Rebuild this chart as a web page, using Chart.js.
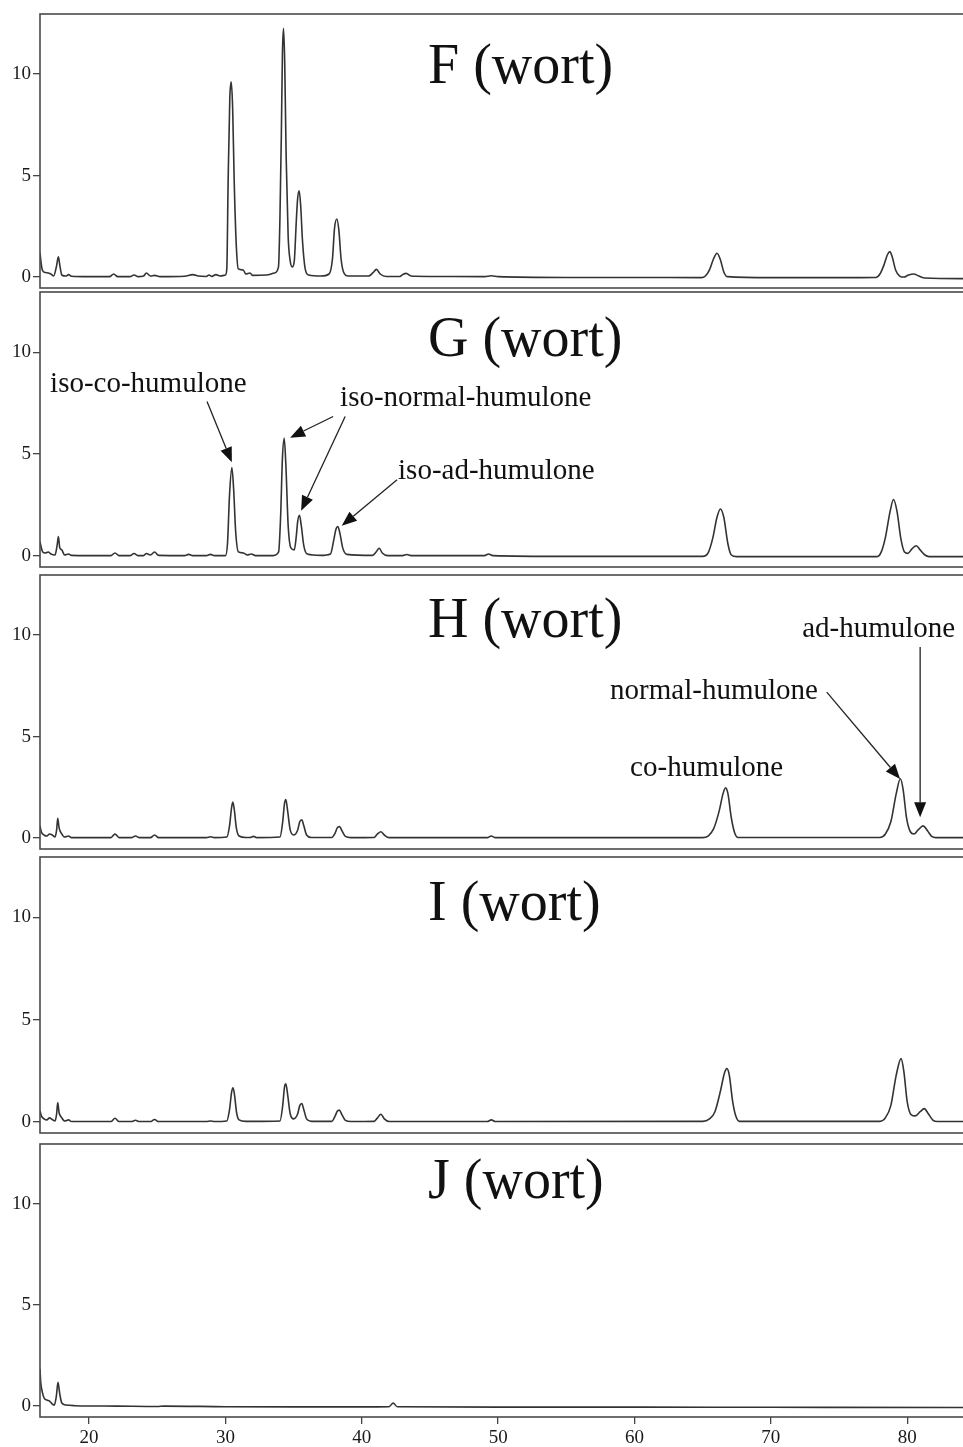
<!DOCTYPE html>
<html>
<head>
<meta charset="utf-8">
<script src="https://cdn.jsdelivr.net/npm/chart.js@4.4.0/dist/chart.umd.min.js"></script>
<style>
  html, body { margin: 0; padding: 0; background: #fff; overflow: hidden; }
  body { width: 963px; height: 1447px; position: relative; }
  canvas { position: absolute; left: 0; }
</style>
</head>
<body>
<canvas id="panelF"></canvas>
<canvas id="panelG"></canvas>
<canvas id="panelH"></canvas>
<canvas id="panelI"></canvas>
<canvas id="panelJ"></canvas>
<script>
// === DATOS ===
const ticksX = [20, 30, 40, 50, 60, 70, 80];
const ticksY = [0, 5, 10];

const tiempoF = [16.4, 16.5, 16.6, 16.8, 17.0, 17.2, 17.4, 17.6, 17.75, 17.85, 18.0, 18.3, 18.5, 18.7, 20.0, 21.5, 21.8, 22.1, 23.0, 23.3, 23.6, 24.0, 24.2, 24.5, 24.8, 25.2, 27.0, 27.6, 28.0, 28.6, 28.8, 29.0, 29.3, 29.6, 30.0, 30.1, 30.2, 30.32, 30.42, 30.53, 30.64, 30.8, 30.95, 31.3, 31.5, 31.8, 32.0, 33.0, 33.6, 33.89, 34.0, 34.1, 34.18, 34.26, 34.35, 34.45, 34.6, 34.75, 34.9, 35.05, 35.2, 35.3, 35.41, 35.52, 35.65, 35.85, 36.1, 37.0, 37.6, 37.85, 38.0, 38.17, 38.32, 38.48, 38.66, 39.0, 40.5, 40.8, 41.08, 41.35, 41.8, 42.8, 43.0, 43.26, 43.6, 45.0, 49.0, 49.5, 50.0, 55.0, 60.0, 64.9, 65.2, 65.5, 65.8, 66.05, 66.3, 66.55, 66.8, 70.0, 75.0, 77.7, 78.0, 78.3, 78.55, 78.72, 78.9, 79.15, 79.45, 79.75, 80.1, 80.48, 80.85, 81.3, 84.3];
const intensidadF = [1.2, 0.6, 0.3, 0.22, 0.2, 0.15, 0.05, 0.5, 1.0, 0.6, 0.1, 0.05, 0.12, 0.04, 0.02, 0.02, 0.15, 0.02, 0.02, 0.1, 0.02, 0.05, 0.2, 0.05, 0.08, 0.02, 0.04, 0.12, 0.05, 0.03, 0.1, 0.03, 0.12, 0.05, 0.1, 0.4, 4.8, 8.8, 9.62, 8.3, 4.8, 1.5, 0.4, 0.35, 0.15, 0.2, 0.08, 0.1, 0.2, 0.5, 3.0, 7.0, 11.0, 12.25, 10.5, 6.0, 2.0, 0.8, 0.5, 0.8, 2.8, 3.9, 4.25, 3.5, 1.8, 0.4, 0.1, 0.05, 0.15, 0.9, 2.4, 2.86, 2.3, 0.9, 0.25, 0.05, 0.05, 0.2, 0.38, 0.15, 0.03, 0.03, 0.12, 0.18, 0.05, 0.03, 0.02, 0.06, 0.02, -0.02, -0.02, -0.03, 0.05, 0.35, 0.9, 1.17, 0.85, 0.25, 0.02, -0.03, -0.03, -0.02, 0.15, 0.6, 1.1, 1.25, 1.0, 0.35, 0.05, 0.0, 0.1, 0.15, 0.05, -0.05, -0.08];

const tiempoG = [16.4, 16.5, 16.6, 16.8, 17.0, 17.2, 17.5, 17.65, 17.75, 17.85, 18.0, 18.2, 18.5, 18.7, 20.0, 21.6, 21.9, 22.2, 23.0, 23.3, 23.6, 24.0, 24.2, 24.5, 24.8, 25.1, 27.0, 27.3, 27.6, 28.6, 28.9, 29.2, 30.0, 30.15, 30.3, 30.47, 30.6, 30.75, 30.95, 31.3, 31.6, 31.9, 32.2, 33.5, 33.9, 34.05, 34.18, 34.31, 34.43, 34.6, 34.8, 35.05, 35.2, 35.3, 35.43, 35.56, 35.75, 36.0, 37.0, 37.7, 37.95, 38.1, 38.24, 38.4, 38.6, 38.9, 40.8, 41.05, 41.28, 41.5, 41.9, 43.0, 43.3, 43.6, 49.0, 49.3, 49.6, 55.0, 65.0, 65.4, 65.75, 66.05, 66.3, 66.55, 66.85, 67.1, 67.5, 77.8, 78.1, 78.4, 78.75, 79.0, 79.25, 79.55, 79.8, 80.05, 80.35, 80.67, 80.95, 81.3, 81.6, 84.3];
const intensidadG = [0.7, 0.4, 0.2, 0.15, 0.2, 0.1, 0.05, 0.5, 0.95, 0.4, 0.3, 0.05, 0.1, 0.03, 0.02, 0.02, 0.15, 0.02, 0.02, 0.12, 0.02, 0.02, 0.12, 0.05, 0.2, 0.03, 0.02, 0.08, 0.02, 0.02, 0.08, 0.02, 0.02, 0.6, 3.0, 4.34, 3.3, 1.2, 0.2, 0.15, 0.05, 0.1, 0.02, 0.02, 0.2, 2.0, 4.8, 5.78, 4.5, 1.5, 0.4, 0.3, 1.0, 1.7, 2.0, 1.5, 0.5, 0.1, 0.03, 0.1, 0.8, 1.3, 1.45, 1.1, 0.4, 0.08, 0.03, 0.2, 0.38, 0.15, 0.02, 0.02, 0.07, 0.02, 0.02, 0.1, 0.02, -0.02, -0.02, 0.15, 0.9, 1.9, 2.31, 1.9, 0.6, 0.05, -0.03, -0.03, 0.2, 0.9, 2.2, 2.77, 2.2, 0.8, 0.2, 0.13, 0.35, 0.5, 0.3, 0.05, -0.03, -0.03];

const tiempoH = [16.4, 16.5, 16.7, 16.9, 17.1, 17.3, 17.5, 17.62, 17.7, 17.8, 17.95, 18.2, 18.5, 18.7, 21.6, 21.9, 22.2, 23.1, 23.4, 23.7, 24.5, 24.8, 25.1, 28.6, 28.9, 29.2, 30.1, 30.3, 30.45, 30.54, 30.65, 30.8, 31.0, 31.5, 31.8, 32.05, 32.3, 34.0, 34.2, 34.33, 34.43, 34.55, 34.75, 35.0, 35.3, 35.45, 35.6, 35.75, 35.95, 36.3, 37.8, 38.05, 38.2, 38.37, 38.55, 38.8, 39.2, 40.9, 41.15, 41.4, 41.65, 42.0, 49.2, 49.5, 49.8, 65.0, 65.4, 65.8, 66.2, 66.5, 66.68, 66.85, 67.1, 67.35, 67.6, 78.0, 78.4, 78.8, 79.2, 79.5, 79.7, 79.95, 80.2, 80.5, 80.8, 81.17, 81.5, 81.8, 82.1, 84.3];
const intensidadH = [0.6, 0.3, 0.15, 0.1, 0.2, 0.15, 0.05, 0.4, 0.97, 0.5, 0.25, 0.05, 0.1, 0.02, 0.02, 0.2, 0.02, 0.02, 0.1, 0.02, 0.02, 0.15, 0.02, 0.02, 0.06, 0.02, 0.05, 0.6, 1.5, 1.77, 1.4, 0.5, 0.1, 0.03, 0.03, 0.08, 0.02, 0.05, 0.8, 1.7, 1.9, 1.4, 0.4, 0.15, 0.4, 0.8, 0.9, 0.6, 0.15, 0.03, 0.03, 0.25, 0.5, 0.56, 0.35, 0.08, 0.02, 0.03, 0.2, 0.31, 0.15, 0.02, 0.02, 0.1, 0.02, 0.02, 0.1, 0.45, 1.3, 2.2, 2.47, 2.2, 1.0, 0.25, 0.03, 0.03, 0.2, 0.8, 2.2, 2.92, 2.4, 1.0, 0.35, 0.2, 0.4, 0.6, 0.35, 0.08, 0.02, 0.02];

const tiempoI = [16.4, 16.5, 16.7, 16.9, 17.1, 17.3, 17.5, 17.62, 17.7, 17.8, 17.95, 18.2, 18.5, 18.7, 21.6, 21.9, 22.2, 23.1, 23.4, 23.7, 24.5, 24.8, 25.1, 28.6, 28.9, 29.2, 30.1, 30.3, 30.45, 30.56, 30.67, 30.82, 31.0, 31.5, 32.0, 34.0, 34.2, 34.33, 34.43, 34.55, 34.75, 35.0, 35.3, 35.45, 35.6, 35.75, 35.95, 36.3, 37.8, 38.05, 38.2, 38.35, 38.55, 38.8, 39.2, 40.9, 41.15, 41.4, 41.65, 42.0, 49.2, 49.5, 49.8, 65.0, 65.5, 65.9, 66.3, 66.6, 66.78, 66.95, 67.2, 67.45, 67.7, 78.0, 78.4, 78.8, 79.2, 79.55, 79.75, 80.0, 80.3, 80.6, 80.95, 81.25, 81.55, 81.9, 82.2, 84.3];
const intensidadI = [0.55, 0.3, 0.15, 0.1, 0.2, 0.12, 0.05, 0.4, 0.95, 0.45, 0.25, 0.05, 0.1, 0.02, 0.02, 0.18, 0.02, 0.02, 0.08, 0.02, 0.02, 0.12, 0.02, 0.02, 0.05, 0.02, 0.05, 0.6, 1.45, 1.67, 1.3, 0.45, 0.1, 0.03, 0.03, 0.05, 0.8, 1.7, 1.87, 1.4, 0.4, 0.15, 0.4, 0.8, 0.9, 0.6, 0.15, 0.03, 0.03, 0.3, 0.52, 0.58, 0.35, 0.08, 0.02, 0.03, 0.2, 0.38, 0.15, 0.02, 0.02, 0.1, 0.02, 0.03, 0.15, 0.5, 1.5, 2.4, 2.61, 2.3, 1.0, 0.25, 0.03, 0.03, 0.2, 0.8, 2.3, 3.1, 2.5, 1.0, 0.35, 0.3, 0.5, 0.65, 0.4, 0.08, 0.02, 0.02];

const tiempoJ = [16.4, 16.45, 16.55, 16.7, 16.9, 17.1, 17.3, 17.45, 17.6, 17.72, 17.85, 18.0, 18.3, 19.0, 22.0, 25.0, 25.5, 30.0, 35.0, 40.0, 42.0, 42.3, 42.6, 50.0, 60.0, 70.0, 84.3];
const intensidadJ = [1.85, 1.2, 0.75, 0.4, 0.3, 0.25, 0.1, 0.05, 0.5, 1.17, 0.6, 0.15, 0.05, 0.02, 0.0, -0.02, 0.0, -0.03, -0.04, -0.04, -0.03, 0.15, -0.03, -0.05, -0.05, -0.06, -0.07];

// anotaciones en coordenadas de datos
const notasG = [
  { texto: "iso-co-humulone", x: 17.14, y: 8.03 },
  { texto: "iso-normal-humulone", x: 38.41, y: 7.34 },
  { texto: "iso-ad-humulone", x: 42.66, y: 3.8 }
];
const flechasG = [
  { x1: 28.65, y1: 7.59, x2: 30.47, y2: 4.6 },
  { x1: 37.9, y1: 6.85, x2: 34.74, y2: 5.81 },
  { x1: 38.78, y1: 6.85, x2: 35.55, y2: 2.22 },
  { x1: 42.59, y1: 3.74, x2: 38.53, y2: 1.48 }
];
const notasH = [
  { texto: "ad-humulone", x: 72.3, y: 9.9 },
  { texto: "normal-humulone", x: 58.21, y: 6.85 },
  { texto: "co-humulone", x: 59.68, y: 3.05 }
];
const flechasH = [
  { x1: 80.95, y1: 9.41, x2: 80.95, y2: 1.03 },
  { x1: 74.1, y1: 7.19, x2: 79.48, y2: 2.91 }
];

// === PANELES ===
const paneles = [
  { id: "panelF", top: 14, alto: 274, titulo: "F (wort)", tituloY: 83, t: tiempoF, v: intensidadF, notas: [], flechas: [] },
  { id: "panelG", top: 292, alto: 275, titulo: "G (wort)", tituloY: 356, t: tiempoG, v: intensidadG, notas: notasG, flechas: flechasG },
  { id: "panelH", top: 575, alto: 274, titulo: "H (wort)", tituloY: 637, t: tiempoH, v: intensidadH, notas: notasH, flechas: flechasH },
  { id: "panelI", top: 857, alto: 276, titulo: "I (wort)", tituloY: 920, t: tiempoI, v: intensidadI, notas: [], flechas: [] },
  { id: "panelJ", top: 1144, alto: 273, titulo: "J (wort)", tituloY: 1198, t: tiempoJ, v: intensidadJ, notas: [], flechas: [] }
];

const fuenteTicks = { family: "'Liberation Serif', 'DejaVu Serif', serif", size: 19 };
const colorLinea = "#333";

function flecha(ctx, x1, y1, x2, y2) {
  const ang = Math.atan2(y2 - y1, x2 - x1);
  const largo = 15, ancho = 6;
  const bx = x2 - largo * Math.cos(ang), by = y2 - largo * Math.sin(ang);
  ctx.beginPath();
  ctx.moveTo(x1, y1);
  ctx.lineTo(bx, by);
  ctx.stroke();
  ctx.beginPath();
  ctx.moveTo(x2, y2);
  ctx.lineTo(bx + ancho * Math.sin(ang), by - ancho * Math.cos(ang));
  ctx.lineTo(bx - ancho * Math.sin(ang), by + ancho * Math.cos(ang));
  ctx.closePath();
  ctx.fill();
}

// marco, titulo y anotaciones
const marco = {
  id: "marco",
  afterDraw(chart, args, opts) {
    const { ctx, chartArea: a, scales: { x, y } } = chart;
    ctx.save();
    ctx.strokeStyle = "#4a4a4a";
    ctx.lineWidth = 1.6;
    ctx.strokeRect(a.left, a.top, a.right - a.left, a.bottom - a.top);

    ctx.fillStyle = "#111";
    ctx.textAlign = "left";
    ctx.textBaseline = "alphabetic";
    ctx.font = "56px 'Liberation Serif', serif";
    ctx.fillText(opts.titulo, 428, opts.tituloY - opts.top + 2);

    ctx.font = "29px 'Liberation Serif', serif";
    opts.notas.forEach(n => ctx.fillText(n.texto, x.getPixelForValue(n.x), y.getPixelForValue(n.y)));

    ctx.strokeStyle = "#222";
    ctx.fillStyle = "#111";
    ctx.lineWidth = 1.3;
    opts.flechas.forEach(f => flecha(ctx,
      x.getPixelForValue(f.x1), y.getPixelForValue(f.y1),
      x.getPixelForValue(f.x2), y.getPixelForValue(f.y2)));
    ctx.restore();
  }
};

function crearPanel(p, ultimo) {
  const canvas = document.getElementById(p.id);
  canvas.width = 972;
  canvas.height = ultimo ? 1447 - (p.top - 2) : p.alto + 4;
  canvas.style.top = (p.top - 2) + "px";

  return new Chart(canvas, {
    type: "line",
    data: {
      datasets: [{
        data: p.t.map((t, i) => ({ x: t, y: p.v[i] })),
        borderColor: colorLinea,
        borderWidth: 1.6,
        pointRadius: 0,
        cubicInterpolationMode: "monotone",
        fill: false
      }]
    },
    options: {
      responsive: false,
      animation: false,
      devicePixelRatio: 1,
      layout: { padding: { left: 0, right: 7, top: 2, bottom: ultimo ? 0 : 2 } },
      plugins: {
        legend: { display: false },
        tooltip: { enabled: false },
        marco: { titulo: p.titulo, tituloY: p.tituloY, top: p.top, notas: p.notas, flechas: p.flechas }
      },
      scales: {
        x: {
          type: "linear",
          min: 16.4,
          max: 84.24,
          display: ultimo,
          afterBuildTicks: ax => { ax.ticks = ticksX.map(v => ({ value: v })); },
          afterFit: ax => {
            if (ultimo) ax.height = 30;
            ax.paddingLeft = 0;
            ax.paddingRight = 0;
          },
          border: { display: false },
          grid: { drawOnChartArea: false, tickLength: 7, color: "#444", lineWidth: 1.3 },
          ticks: { font: fuenteTicks, color: "#1a1a1a", padding: 3, maxRotation: 0 }
        },
        y: {
          min: -0.54,
          max: 12.96,
          afterBuildTicks: ax => { ax.ticks = ticksY.map(v => ({ value: v })); },
          afterFit: ax => {
            ax.width = 40;
            ax.paddingTop = 0;
            ax.paddingBottom = 0;
          },
          border: { display: false },
          grid: { drawOnChartArea: false, tickLength: 7, color: "#444", lineWidth: 1.3 },
          ticks: { font: fuenteTicks, color: "#1a1a1a", padding: 2 }
        }
      }
    },
    plugins: [marco]
  });
}

paneles.forEach((p, i) => crearPanel(p, i === paneles.length - 1));
</script>
</body>
</html>
